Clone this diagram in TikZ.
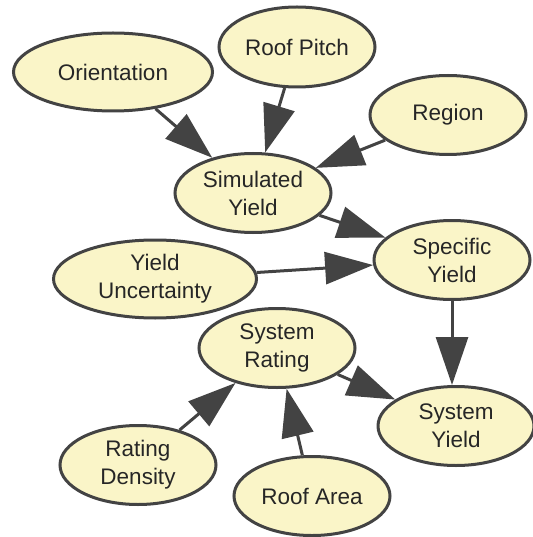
\documentclass[tikz,border=0pt]{standalone}
\usepackage{fontspec}
\setmainfont{Liberation Sans}
\usetikzlibrary{shapes.geometric,arrows.meta}
\definecolor{nodefill}{HTML}{FAF5C8}
\definecolor{edgegray}{HTML}{434343}
\definecolor{textgray}{HTML}{262626}

\begin{document}
\begin{tikzpicture}[x=1pt,y=-1pt,
  var/.style={ellipse, draw=edgegray, line width=3pt, fill=nodefill,
    inner sep=0pt, minimum width=156pt, minimum height=79pt,
    align=center, text=textgray, font=\fontsize{22.5}{28}\selectfont},
  wide/.style={minimum width=199pt, minimum height=78pt},
  link/.style={draw=edgegray, line width=3pt,
    -{Triangle[length=48pt,width=32pt]}}
]
\useasboundingbox (0,0) rectangle (532,537);

% variables of the yield model
\node[var, wide] (orient)  at (113,72)  {Orientation};
\node[var, minimum height=80pt] (pitch) at (297,47) {Roof Pitch};
\node[var] (region)  at (448,115) {Region};
\node[var] (simyld)  at (253,193) {Simulated\\Yield};
\node[var] (specyld) at (452,260) {Specific\\Yield};
\node[var, wide, minimum width=203pt] (uncert) at (155,279) {Yield\\Uncertainty};
\node[var] (rating)  at (277,348) {System\\Rating};
\node[var] (sysyld)  at (456,426) {System\\Yield};
\node[var] (density) at (138,465) {Rating\\Density};
\node[var] (area)    at (312,496) {Roof Area};

% dependencies
\draw[link] (orient)  -- (simyld);
\draw[link] (pitch)   -- (simyld);
\draw[link] (region)  -- (simyld);
\draw[link] (simyld)  -- (specyld);
\draw[link] (uncert)  -- (specyld);
\draw[link] (specyld.south) -- (sysyld.north -| specyld.south);
\draw[link] (rating)  -- (sysyld);
\draw[link] (density) -- (rating);
\draw[link] (area)    -- (rating);
\end{tikzpicture}
\end{document}
